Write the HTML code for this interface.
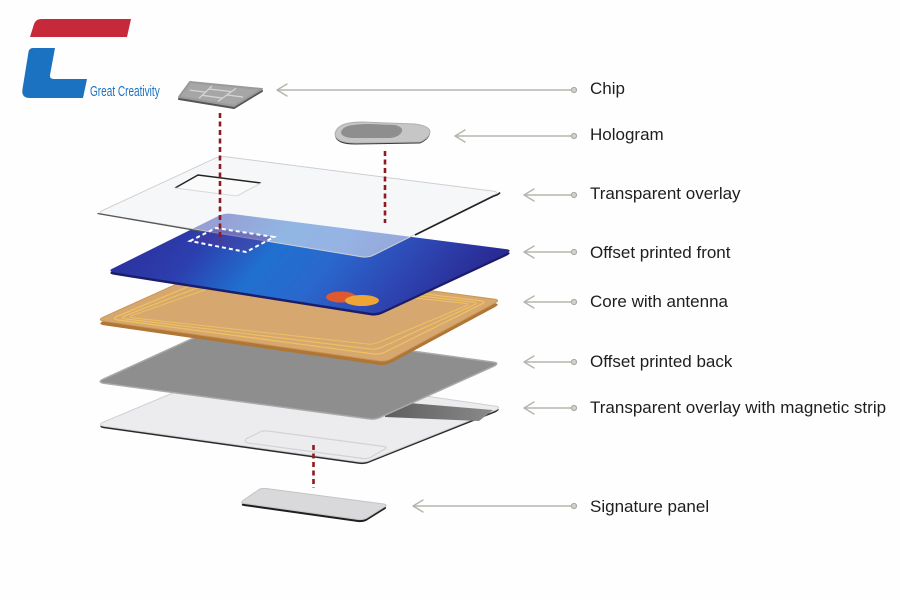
<!DOCTYPE html>
<html><head><meta charset="utf-8"><style>
html,body{margin:0;padding:0;background:#fff;}
svg{display:block;}
text{font-family:"Liberation Sans",Arial,sans-serif;}
</style></head><body>
<svg width="900" height="600" viewBox="0 0 900 600" xmlns="http://www.w3.org/2000/svg">
<defs>
<linearGradient id="blue" x1="0" y1="0" x2="1" y2="0.2">
<stop offset="0" stop-color="#2b2a96"/>
<stop offset="0.28" stop-color="#2c3fae"/>
<stop offset="0.46" stop-color="#2070d0"/>
<stop offset="0.62" stop-color="#2a68ce"/>
<stop offset="0.82" stop-color="#2e46b2"/>
<stop offset="1" stop-color="#2a2c96"/>
</linearGradient>
<linearGradient id="mag" x1="0" y1="0" x2="1" y2="0">
<stop offset="0" stop-color="#5e5e5e"/>
<stop offset="1" stop-color="#8a8a8a"/>
</linearGradient>
</defs>
<rect width="900" height="600" fill="#fefefe"/>

<!-- Logo -->
<path d="M41,19 L131,19 L127,37 L30,37 L34,24 Q36,19 41,19 Z" fill="#c62a3a"/>
<path d="M33,48 L55,48 L50,75 Q49.5,79 54,79 L87,79 L83,98 L30,98 Q21,98 22.5,89 L28.5,52 Q29.2,48 33,48 Z" fill="#1a72c0"/>
<text transform="translate(90,96) scale(0.67,1)" font-size="15" fill="#1a72c0">Great Creativity</text>

<!-- Signature panel back white card -->
<path transform="translate(0,2)" d="M103.4,422.1 L225.6,370.9 Q232,368 238.9,368.9 L495.1,406.1 Q502,407 495.7,410.2 L371.3,459.8 Q365,463 358.1,461.7 L103.9,426.3 Q97,425 103.4,422.1 Z" fill="#2a2a2a"/>
<path d="M103.4,422.1 L225.6,370.9 Q232,368 238.9,368.9 L495.1,406.1 Q502,407 495.7,410.2 L371.3,459.8 Q365,463 358.1,461.7 L103.9,426.3 Q97,425 103.4,422.1 Z" fill="#ececef" stroke="#d0d0d4" stroke-width="1"/>
<polygon points="385,401 493,410 479,421 385,417" fill="url(#mag)"/>
<path d="M246,439 Q244,442 248,443 L363,458.5 Q368,459 371,457 L385,449 Q388,447 384,446.5 L268,431 Q263,430.5 260,432 Z" fill="none" stroke="#d2d2d6" stroke-width="1.2"/>

<!-- Gray back card -->
<path d="M103.4,379.1 L215.6,327.9 Q222,325 228.9,325.9 L493.1,362.1 Q500,363 493.7,366.2 L381.3,416.8 Q375,420 368.1,418.7 L103.9,383.3 Q97,382 103.4,379.1 Z" fill="#8e8e8e" stroke="#a9a9a9" stroke-width="1.5"/>

<!-- Core with antenna -->
<path transform="translate(0,4)" d="M103.4,317.1 L216.6,265.9 Q223,263 229.9,263.9 L494.1,299.1 Q501,300 494.7,303.2 L391.3,358.8 Q385,362 378.1,360.7 L103.9,321.3 Q97,320 103.4,317.1 Z" fill="#b07636"/>
<path d="M103.4,317.1 L216.6,265.9 Q223,263 229.9,263.9 L494.1,299.1 Q501,300 494.7,303.2 L391.3,358.8 Q385,362 378.1,360.7 L103.9,321.3 Q97,320 103.4,317.1 Z" fill="#d6a870" stroke="#c99656" stroke-width="1"/>
<g fill="none" stroke="#efc260" stroke-width="1.4">
<path transform="translate(301.5,311.3) scale(0.93,0.86) translate(-301.5,-311.3)" d="M103.4,317.1 L216.6,265.9 Q223,263 229.9,263.9 L494.1,299.1 Q501,300 494.7,303.2 L391.3,358.8 Q385,362 378.1,360.7 L103.9,321.3 Q97,320 103.4,317.1 Z"/>
<path transform="translate(301.5,311.3) scale(0.89,0.76) translate(-301.5,-311.3)" d="M103.4,317.1 L216.6,265.9 Q223,263 229.9,263.9 L494.1,299.1 Q501,300 494.7,303.2 L391.3,358.8 Q385,362 378.1,360.7 L103.9,321.3 Q97,320 103.4,317.1 Z"/>
<path transform="translate(301.5,311.3) scale(0.85,0.66) translate(-301.5,-311.3)" d="M103.4,317.1 L216.6,265.9 Q223,263 229.9,263.9 L494.1,299.1 Q501,300 494.7,303.2 L391.3,358.8 Q385,362 378.1,360.7 L103.9,321.3 Q97,320 103.4,317.1 Z"/>
</g>

<!-- Blue offset printed front -->
<path transform="translate(0,2.5)" d="M113.4,268.1 L218.6,215.9 Q225,213 231.9,213.9 L506.1,249.1 Q513,250 506.7,253.2 L383.3,310.8 Q377,314 370.1,312.7 L113.9,272.3 Q107,271 113.4,268.1 Z" fill="#1c1d6a"/>
<path d="M113.4,268.1 L218.6,215.9 Q225,213 231.9,213.9 L506.1,249.1 Q513,250 506.7,253.2 L383.3,310.8 Q377,314 370.1,312.7 L113.9,272.3 Q107,271 113.4,268.1 Z" fill="url(#blue)"/>
<ellipse cx="341" cy="297" rx="15" ry="5.5" fill="#e0582e"/>
<ellipse cx="362" cy="300.5" rx="17" ry="5.5" fill="#efa436"/>

<!-- Transparent overlay (top) -->
<path d="M103.4,210.1 L213.6,158.9 Q220,156 226.9,156.9 L493.1,191.1 Q500,192 493.7,195.2 L374.3,254.8 Q368,258 361.1,256.7 L103.9,214.3 Q97,213 103.4,210.1 Z" fill="#eef0f4" fill-opacity="0.55" stroke="#cfcfd3" stroke-width="1"/>
<path d="M97.5,213.5 L205,232" stroke="#555" stroke-width="1.3" fill="none"/>
<path d="M500,192.5 Q498,195 493.7,196 L415,235" stroke="#222" stroke-width="1.6" fill="none"/>
<!-- window -->
<polygon points="175,188 198,175 261,183 237,196" fill="#fafafa"/>
<path d="M175,188 L198,175 L261,183" stroke="#222" stroke-width="1.4" fill="none"/>
<path d="M175,188 L237,196 L261,183" stroke="#d8d8d8" stroke-width="1" fill="none"/>

<!-- dashed white chip area on blue -->
<polygon points="190,241 216,228 274,237 246,252" fill="#4a3aa0" fill-opacity="0.5" stroke="#ffffff" stroke-width="2" stroke-dasharray="4,3"/>

<!-- Chip -->
<polygon transform="translate(0,2)" points="179,97 190,82 262,89 234,106" fill="#555" stroke="#555" stroke-width="2" stroke-linejoin="round"/>
<polygon points="179,97 190,82 262,89 234,106" fill="#a6a6a6" stroke="#9a9a9a" stroke-width="2" stroke-linejoin="round"/>
<g stroke="#d4d4d4" stroke-width="1.3" fill="none">
<path d="M212,86 L199,98.4 M236,88.3 L218,101.4 M189.6,90.1 L205.5,92.1 M227,95 L243,97 M208.8,89 L231.5,91.6 M202.1,95.3 L222.6,98.1"/>
</g>

<!-- Hologram -->
<path transform="translate(0,1.5)" d="M345,124 Q352,122 362,122 L415,124 Q430,126 430,132 Q429,138 420,142 L355,143 Q336,143 335,134 Q336,127 345,124 Z" fill="#3a3a3a"/>
<path d="M345,124 Q352,122 362,122 L415,124 Q430,126 430,132 Q429,138 420,142 L355,143 Q336,143 335,134 Q336,127 345,124 Z" fill="#c6c6c6" stroke="#b0b0b0" stroke-width="1"/>
<path d="M348,126 Q356,124 370,124 L395,125 Q403,127 402,131 Q400,137 390,138 L352,138 Q341,137 341,132 Q342,128 348,126 Z" fill="#8e8e8e"/>

<!-- Signature panel piece -->
<path transform="translate(0,2.5)" d="M243,500.5 L259,489.5 Q262,488 266,488.5 L384,504 Q388,505 384.5,507 L366,518.5 Q362,520 358,519.5 L244,503.5 Q240,503 243,500.5 Z" fill="#1e1e1e"/>
<path d="M243,500.5 L259,489.5 Q262,488 266,488.5 L384,504 Q388,505 384.5,507 L366,518.5 Q362,520 358,519.5 L244,503.5 Q240,503 243,500.5 Z" fill="#d9d9db" stroke="#c4c4c6" stroke-width="1"/>

<!-- Red dashed lines -->
<g stroke="#8e1b1f" stroke-width="2.6" stroke-dasharray="5,3.5" fill="none">
<line x1="220" y1="113" x2="220" y2="241"/>
<line x1="385" y1="151" x2="385" y2="223"/>
<line x1="313.5" y1="445" x2="313.5" y2="488"/>
</g>

<!-- Arrows -->
<g stroke="#b6b6ae" stroke-width="1.5" fill="none" stroke-linecap="round" stroke-linejoin="round">
<path d="M277,90 L572,90 M287,84 L277,90 L287,96"/>
<path d="M455,136 L572,136 M465,130 L455,136 L465,142"/>
<path d="M524,195 L572,195 M534,189 L524,195 L534,201"/>
<path d="M524,252 L572,252 M534,246 L524,252 L534,258"/>
<path d="M524,302 L572,302 M534,296 L524,302 L534,308"/>
<path d="M524,362 L572,362 M534,356 L524,362 L534,368"/>
<path d="M524,408 L572,408 M534,402 L524,408 L534,414"/>
<path d="M413,506 L572,506 M423,500 L413,506 L423,512"/>
</g>
<g fill="#d0d0cc" stroke="#a8a8a0" stroke-width="1">
<circle cx="574" cy="90" r="2.6"/>
<circle cx="574" cy="136" r="2.6"/>
<circle cx="574" cy="195" r="2.6"/>
<circle cx="574" cy="252" r="2.6"/>
<circle cx="574" cy="302" r="2.6"/>
<circle cx="574" cy="362" r="2.6"/>
<circle cx="574" cy="408" r="2.6"/>
<circle cx="574" cy="506" r="2.6"/>
</g>

<!-- Labels -->
<g font-size="17" fill="#1e1e1e">
<text x="590" y="94">Chip</text>
<text x="590" y="140">Hologram</text>
<text x="590" y="199">Transparent overlay</text>
<text x="590" y="258">Offset printed front</text>
<text x="590" y="307">Core with antenna</text>
<text x="590" y="367">Offset printed back</text>
<text x="590" y="413">Transparent overlay with magnetic strip</text>
<text x="590" y="512">Signature panel</text>
</g>
</svg>
</body></html>
